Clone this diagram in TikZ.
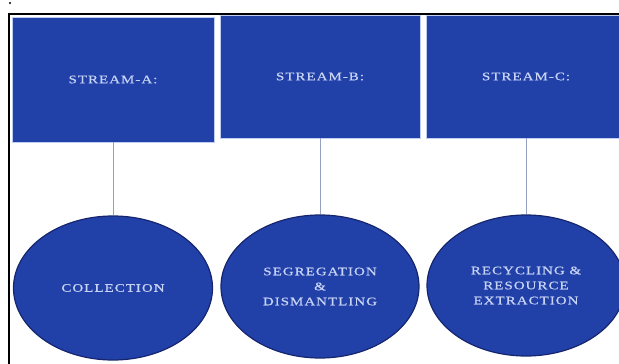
\documentclass[tikz,border=0pt]{standalone}
\usepackage{fontspec}
\newfontfamily\lbl[FakeStretch=1.3,LetterSpace=9,FakeBold=0.6]{Liberation Serif}
\usetikzlibrary{shapes.geometric}
\definecolor{boxblue}{RGB}{33,64,168}
\definecolor{edgenavy}{RGB}{22,38,110}
\definecolor{txt}{RGB}{200,212,245}
\definecolor{conn}{RGB}{150,160,195}
\definecolor{rim}{RGB}{190,205,240}
\tikzset{
  x=1pt, y=-1pt,
  streambox/.style={draw=rim, line width=0.8pt, fill=boxblue, inner sep=0pt},
  stageoval/.style={ellipse, draw=edgenavy, line width=1.2pt, fill=boxblue, inner sep=0pt, align=center},
  lbltext/.style={text=txt, font=\lbl\fontsize{11.5}{15}\selectfont},
  connector/.style={draw=conn, line width=1pt}
}
\begin{document}
\begin{tikzpicture}
\useasboundingbox (0,0) rectangle (619,364);
\clip (0,0) rectangle (619,364);
\fill[black] (10,3) circle (1.2);
\draw[black, line width=1.6pt] (9,380) -- (9,14) -- (640,14);
% boxes
\node[streambox, minimum width=202pt, minimum height=125pt] (ba) at (113,79.5) {};
\node[streambox, minimum width=200pt, minimum height=123pt] (bb) at (320,76.5) {};
\node[streambox, minimum width=200pt, minimum height=123pt] (bc) at (526,76.5) {};
\node[lbltext] at (ba.center) {STREAM-A:};
\node[lbltext] at (bb.center) {STREAM-B:};
\node[lbltext] at (bc.center) {STREAM-C:};
% ellipses
\node[stageoval, minimum width=199pt, minimum height=144pt] (ea) at (113,288) {};
\node[stageoval, minimum width=198pt, minimum height=143pt] (eb) at (320,286.5) {};
\node[stageoval, minimum width=198pt, minimum height=141pt] (ec) at (526,285.5) {};
\node[lbltext, align=center] at (ea.center) {COLLECTION};
\node[lbltext, align=center] at (eb.center) {SEGREGATION\\\&\\DISMANTLING};
\node[lbltext, align=center] at (ec.center) {RECYCLING \&\\RESOURCE\\EXTRACTION};
% connectors
\draw[connector] (ba.south) -- (ea.north);
\draw[connector] (bb.south) -- (eb.north);
\draw[connector] (bc.south) -- (ec.north);
\end{tikzpicture}
\end{document}
